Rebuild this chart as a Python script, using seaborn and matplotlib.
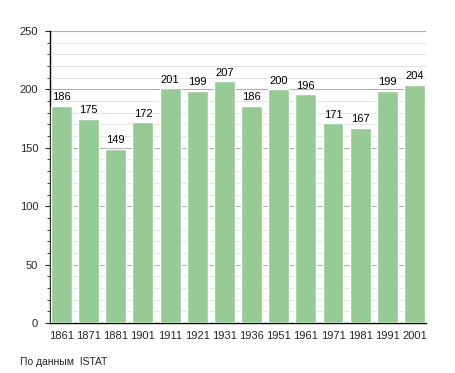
import matplotlib
matplotlib.use('Agg')
import matplotlib.pyplot as plt
import seaborn as sns
import pandas as pd
from matplotlib.ticker import MultipleLocator

# population data
years = ['1861', '1871', '1881', '1901', '1911', '1921', '1931', '1936',
         '1951', '1961', '1971', '1981', '1991', '2001']
population = [186, 175, 149, 172, 201, 199, 207, 186, 200, 196, 171, 167, 199, 204]

data = pd.DataFrame({'year': years, 'pop': population})

sns.set_style('white')
plt.rcParams['font.family'] = ['Liberation Sans', 'DejaVu Sans']

fig = plt.figure(figsize=(4.55, 3.73), dpi=100)
ax = fig.add_axes([0.110, 0.134, 0.826, 0.783])

sns.barplot(x='year', y='pop', data=data, color='#97CB96', saturation=1,
            width=0.77, ax=ax, zorder=3)

for i, v in enumerate(population):
    ax.text(i, v + 3, str(v), ha='center', va='bottom', fontsize=8, color='black', zorder=4)

ax.set_ylim(0, 250)
ax.set_xlim(-0.42, 13.42)
ax.yaxis.set_major_locator(MultipleLocator(50))
ax.yaxis.set_minor_locator(MultipleLocator(10))
ax.grid(axis='y', which='major', color='#b0b0b0', linewidth=0.8, zorder=0)
ax.grid(axis='y', which='minor', color='#e4e4e4', linewidth=0.8, zorder=0)
ax.set_axisbelow(True)

ax.spines['top'].set_visible(False)
ax.spines['right'].set_visible(False)
ax.spines['left'].set_color('black')
ax.spines['bottom'].set_color('black')
ax.spines['left'].set_linewidth(1)
ax.spines['bottom'].set_linewidth(1)

ax.tick_params(axis='y', which='major', left=True, length=3.6, width=0.8, labelsize=8, pad=5)
ax.tick_params(axis='y', which='minor', left=True, length=2.2, width=0.6)
ax.tick_params(axis='x', bottom=False, labelsize=8, pad=2)
ax.set_xlabel('')
ax.set_ylabel('')

fig.text(0.044, 0.03, 'По данным  ISTAT', fontsize=7.5, ha='left', va='center')

fig.savefig('out.png', dpi=100)
